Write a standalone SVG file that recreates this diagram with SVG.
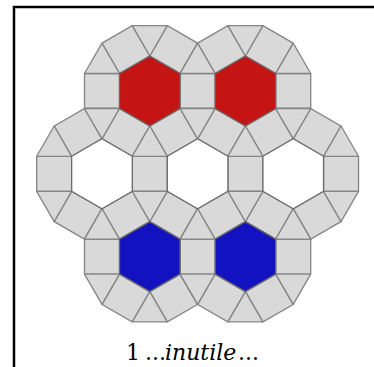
<svg xmlns="http://www.w3.org/2000/svg" xmlns:xlink="http://www.w3.org/1999/xlink" width="374" height="367" viewBox="0 0 374 367">
<style>
.t{fill:#d9d9d9;stroke:#858585;stroke-width:1.3;stroke-linejoin:round}
.hx{stroke:#6a6a6a;stroke-width:1.3;stroke-linejoin:round}
.red{fill:#c41414}
.blue{fill:#1212c0}
.white{fill:#ffffff}
.lbl{font-family:"DejaVu Serif","Liberation Serif",serif;font-size:22px;fill:#000}
.it{font-style:italic}
</style>
<defs>
<g id="ring">
<rect class="t" x="30.311" y="-17.5" width="35" height="35"/>
<rect class="t" x="30.311" y="-17.5" width="35" height="35" transform="rotate(60)"/>
<rect class="t" x="30.311" y="-17.5" width="35" height="35" transform="rotate(120)"/>
<rect class="t" x="30.311" y="-17.5" width="35" height="35" transform="rotate(180)"/>
<rect class="t" x="30.311" y="-17.5" width="35" height="35" transform="rotate(240)"/>
<rect class="t" x="30.311" y="-17.5" width="35" height="35" transform="rotate(300)"/>
<polygon class="t" points="0,-35 17.5,-65.311 -17.5,-65.311"/>
<polygon class="t" points="0,-35 17.5,-65.311 -17.5,-65.311" transform="rotate(60)"/>
<polygon class="t" points="0,-35 17.5,-65.311 -17.5,-65.311" transform="rotate(120)"/>
<polygon class="t" points="0,-35 17.5,-65.311 -17.5,-65.311" transform="rotate(180)"/>
<polygon class="t" points="0,-35 17.5,-65.311 -17.5,-65.311" transform="rotate(240)"/>
<polygon class="t" points="0,-35 17.5,-65.311 -17.5,-65.311" transform="rotate(300)"/>
</g>
<polygon id="hex" points="0,-35 30.311,-17.5 30.311,17.5 0,35 -30.311,17.5 -30.311,-17.5"/>
</defs>
<path d="M14,367 V7 H374" fill="none" stroke="#000" stroke-width="2.5"/>
<g id="rings">
<g id="ring-top-left"><use xlink:href="#ring" transform="translate(149.79,90.99)"/></g>
<g id="ring-top-right"><use xlink:href="#ring" transform="translate(245.41,90.99)"/></g>
<g id="ring-mid-left"><use xlink:href="#ring" transform="translate(101.98,173.8)"/></g>
<g id="ring-mid-center"><use xlink:href="#ring" transform="translate(197.6,173.8)"/></g>
<g id="ring-mid-right"><use xlink:href="#ring" transform="translate(293.22,173.8)"/></g>
<g id="ring-bot-left"><use xlink:href="#ring" transform="translate(149.79,256.61)"/></g>
<g id="ring-bot-right"><use xlink:href="#ring" transform="translate(245.41,256.61)"/></g>
</g>
<g id="hexagons">
<g id="hex-top-left"><use xlink:href="#hex" class="hx red" transform="translate(149.79,90.99)"/></g>
<g id="hex-top-right"><use xlink:href="#hex" class="hx red" transform="translate(245.41,90.99)"/></g>
<g id="hex-mid-left"><use xlink:href="#hex" class="hx white" transform="translate(101.98,173.8)"/></g>
<g id="hex-mid-center"><use xlink:href="#hex" class="hx white" transform="translate(197.6,173.8)"/></g>
<g id="hex-mid-right"><use xlink:href="#hex" class="hx white" transform="translate(293.22,173.8)"/></g>
<g id="hex-bot-left"><use xlink:href="#hex" class="hx blue" transform="translate(149.79,256.61)"/></g>
<g id="hex-bot-right"><use xlink:href="#hex" class="hx blue" transform="translate(245.41,256.61)"/></g>
</g>
<g id="caption">
<text class="lbl" x="126" y="360">1</text>
<text class="lbl" x="145" y="360">...</text>
<text class="lbl it" x="165" y="360">inutile</text>
<text class="lbl" x="238" y="360">...</text>
</g>
</svg>
